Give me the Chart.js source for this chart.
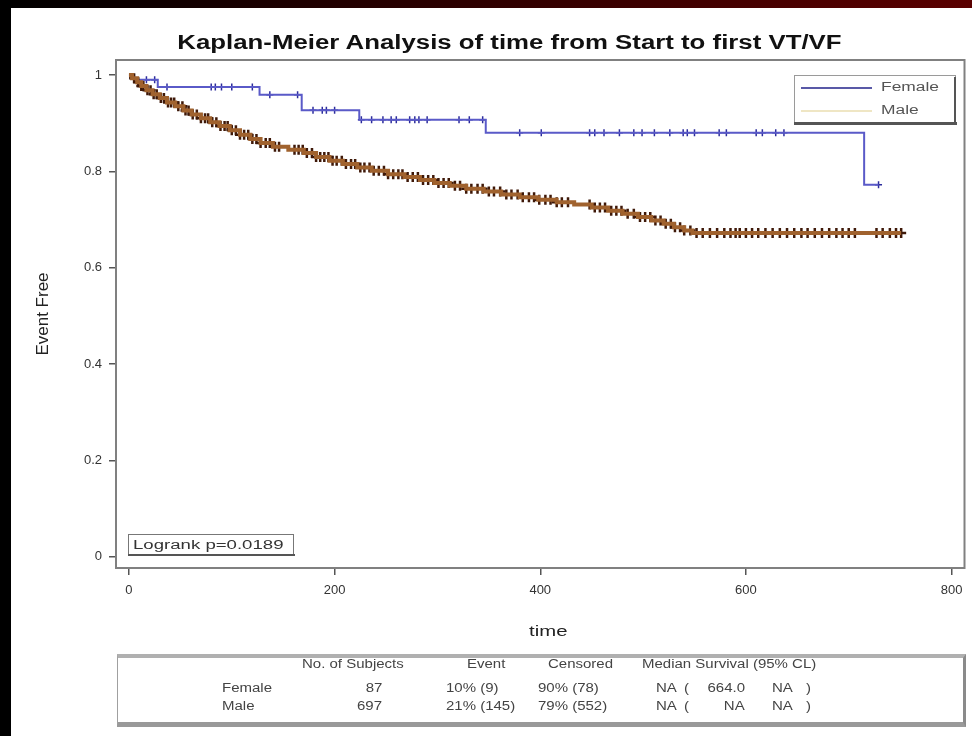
<!DOCTYPE html>
<html>
<head>
<meta charset="utf-8">
<title>Kaplan-Meier: time to first VT/VF</title>
<script src="https://cdn.jsdelivr.net/npm/chart.js@4.4.1/dist/chart.umd.min.js"></script>
<style>
  html, body { margin: 0; padding: 0; background: #fff; }
  #page { position: relative; width: 972px; height: 736px; overflow: hidden; background: #fff;
          font-family: "Liberation Sans", Arial, sans-serif; }
  #topbar { position: absolute; left: 0; top: 0; width: 972px; height: 8px;
            background: linear-gradient(to right, #000 0%, #220000 35%, #5a0000 100%); }
  #leftbar { position: absolute; left: 0; top: 0; width: 11px; height: 736px; background: #000; }
  #kmChart { position: absolute; left: 0; top: 0; }
  #title { position: absolute; left: 178px; top: 30px; width: 662px; text-align: center;
           font-size: 20px; font-weight: bold; color: #111; line-height: 24px; }
  #title span { display: inline-block; transform: scaleX(1.29); transform-origin: center; }
  #summary { position: absolute; left: 117px; top: 654px; width: 845px; height: 64px;
             border: 1px solid #a0a0a0; border-top: 4px solid #b0b0b0;
             border-bottom: 5px solid #999; border-right: 3px solid #8a8a8a; }
  .cell { position: absolute; white-space: pre; font-size: 12px; color: #444; line-height: 14px;
          transform: scaleX(1.25); transform-origin: left center; }
  .cell.right { transform-origin: right center; }
</style>
</head>
<body>
<div id="page">
  <canvas id="kmChart" width="972" height="736"></canvas>
  <div id="title"><span>Kaplan-Meier Analysis of time from Start to first VT/VF</span></div>
  <div id="topbar"></div>
  <div id="leftbar"></div>
  <div id="summary"></div>
</div>
<script>
// Kaplan-Meier step estimates (time in days)
const femaleTimes = [0, 5, 28, 127, 168, 224, 347, 715, 729];
const femaleSurv  = [1, 0.990, 0.975, 0.959, 0.927, 0.907, 0.880, 0.772, 0.772];
const femaleCensored = [17, 25, 37, 80, 84, 90, 100, 120, 137, 164, 179, 188, 192, 200,
  226, 236, 247, 255, 260, 273, 278, 282, 290, 321, 331, 344, 380, 401, 448, 453, 462,
  477, 491, 499, 511, 526, 539, 543, 550, 574, 581, 610, 616, 629, 637, 729];

const maleTimes = [0, 3, 8, 12, 17, 23, 30, 37, 45, 53, 61, 70, 79, 88, 98, 108, 118, 128,
  140, 155, 170, 182, 195, 208, 222, 236, 252, 268, 283, 297, 312, 328, 345, 362, 380, 398,
  416, 433, 450, 466, 480, 495, 508, 520, 530, 540, 548, 751];
const maleSurv = [1, 0.993, 0.985, 0.977, 0.968, 0.960, 0.952, 0.943, 0.935, 0.926, 0.918,
  0.910, 0.902, 0.894, 0.885, 0.876, 0.867, 0.859, 0.851, 0.845, 0.838, 0.830, 0.822, 0.815,
  0.808, 0.801, 0.794, 0.788, 0.782, 0.776, 0.770, 0.764, 0.758, 0.752, 0.746, 0.741, 0.736,
  0.731, 0.725, 0.718, 0.712, 0.705, 0.698, 0.691, 0.684, 0.677, 0.672, 0.672];
const maleCensored = [5, 9, 12, 14, 18, 21, 24, 27, 31, 34, 38, 41, 44, 48, 52, 55, 58, 62,
  66, 70, 74, 77, 81, 85, 89, 93, 96, 100, 104, 108, 112, 116, 120, 124, 128, 133, 137, 142,
  146, 161, 165, 169, 173, 178, 182, 186, 190, 194, 198, 202, 207, 211, 216, 220, 225, 229,
  234, 238, 243, 248, 252, 257, 262, 266, 271, 276, 281, 286, 291, 296, 301, 306, 311, 317,
  322, 328, 333, 339, 344, 350, 355, 361, 367, 372, 378, 383, 389, 394, 399, 405, 410, 416,
  421, 427, 448, 453, 458, 463, 469, 474, 479, 485, 491, 497, 502, 507, 512, 517, 522, 527,
  531, 536, 540, 546, 552, 558, 565, 572, 579, 585, 590, 594, 600, 606, 612, 619, 626, 633,
  640, 647, 654, 660, 667, 674, 681, 688, 694, 700, 706, 727, 733, 740, 746, 751];

const xTicks = [0, 200, 400, 600, 800];
const yTicks = [0, 0.2, 0.4, 0.6, 0.8, 1];
const yTickLabels = ['0', '0.2', '0.4', '0.6', '0.8', '1'];

// summary table
const groups = ['Female', 'Male'];
const nSubjects = [87, 697];
const nEvents = [9, 145];
const nCensored = [78, 552];
const medianSurv = ['NA', 'NA'];
const medianLower = ['664.0', 'NA'];
const medianUpper = ['NA', 'NA'];
const logrankP = '0.0189';

const FONT = '"Liberation Sans", Arial, sans-serif';

function kmAt(times, surv, t) {
  let s = surv[0];
  for (let i = 0; i < times.length; i++) {
    if (times[i] <= t) s = surv[i];
  }
  return s;
}

const toPoints = (times, surv) => times.map((t, i) => ({ x: t, y: surv[i] }));
const censorPoints = (cens, times, surv) => cens.map(t => ({ x: t, y: kmAt(times, surv, t) }));

// wide text, stretched horizontally around (x, y)
function wideText(ctx, text, x, y, sx) {
  ctx.save();
  ctx.translate(x, y);
  ctx.scale(sx, 1);
  ctx.fillText(text, 0, 0);
  ctx.restore();
}

// frame, legend, logrank box and x axis title
const decorations = {
  id: 'decorations',
  afterDraw(chart) {
    const { ctx, chartArea: a } = chart;
    ctx.save();
    ctx.strokeStyle = '#808080';
    ctx.lineWidth = 2;
    ctx.strokeRect(a.left, a.top, a.right - a.left, a.bottom - a.top);

    // legend
    const lx = 794, ly = 75, lw = 161, lh = 48;
    ctx.fillStyle = '#fff';
    ctx.fillRect(lx, ly, lw, lh);
    ctx.strokeStyle = '#9a9a9a';
    ctx.lineWidth = 1;
    ctx.strokeRect(lx + 0.5, ly + 0.5, lw, lh);
    ctx.fillStyle = '#555';
    ctx.fillRect(lx, ly + lh - 1, lw + 2, 3);
    ctx.fillRect(lx + lw - 1, ly + 2, 2, lh);

    ctx.lineWidth = 1.5;
    ctx.strokeStyle = '#22228a';
    ctx.beginPath(); ctx.moveTo(801, 88); ctx.lineTo(872, 88); ctx.stroke();
    ctx.lineWidth = 2;
    ctx.strokeStyle = '#efe6c4';
    ctx.beginPath(); ctx.moveTo(801, 111); ctx.lineTo(872, 111); ctx.stroke();

    ctx.font = '12px ' + FONT;
    ctx.fillStyle = '#555';
    ctx.textBaseline = 'middle';
    ctx.textAlign = 'left';
    wideText(ctx, groups[0], 881, 88, 1.45);
    wideText(ctx, groups[1], 881, 111, 1.45);

    // logrank test
    const bx = 128, by = 534, bw = 165, bh = 21;
    ctx.fillStyle = '#fff';
    ctx.fillRect(bx, by, bw, bh);
    ctx.strokeStyle = '#777';
    ctx.lineWidth = 1;
    ctx.strokeRect(bx + 0.5, by + 0.5, bw, bh);
    ctx.fillStyle = '#555';
    ctx.fillRect(bx, by + bh - 1, bw + 2, 2);
    ctx.fillStyle = '#333';
    ctx.font = '12px ' + FONT;
    wideText(ctx, 'Logrank p=' + logrankP, bx + 5, by + bh / 2 + 1, 1.55);

    // x axis title
    ctx.fillStyle = '#222';
    ctx.font = '14px ' + FONT;
    ctx.textAlign = 'center';
    wideText(ctx, 'time', (a.left + a.right) / 2 + 8, 632, 1.45);
    ctx.restore();
  }
};

const ctx = document.getElementById('kmChart').getContext('2d');
new Chart(ctx, {
  type: 'scatter',
  data: {
    datasets: [
      {
        label: 'Male',
        data: toPoints(maleTimes, maleSurv),
        showLine: true,
        stepped: 'before',
        borderColor: '#a0622e',
        borderWidth: 4,
        pointRadius: 0
      },
      {
        label: 'Male censored',
        data: censorPoints(maleCensored, maleTimes, maleSurv),
        pointStyle: 'cross',
        pointRadius: 5,
        borderColor: '#3e1808',
        borderWidth: 2.5,
        backgroundColor: '#3e1808'
      },
      {
        label: 'Female',
        data: toPoints(femaleTimes, femaleSurv),
        showLine: true,
        stepped: 'before',
        borderColor: '#5a5ac8',
        borderWidth: 2,
        pointRadius: 0
      },
      {
        label: 'Female censored',
        data: censorPoints(femaleCensored, femaleTimes, femaleSurv),
        pointStyle: 'cross',
        pointRadius: 3.5,
        borderColor: '#2c2c9c',
        borderWidth: 1.5,
        backgroundColor: '#2c2c9c'
      }
    ]
  },
  options: {
    responsive: false,
    animation: false,
    layout: { padding: { left: 12, right: 6, top: 60, bottom: 86 } },
    plugins: {
      legend: { display: false },
      tooltip: { enabled: false },
      title: { display: false }
    },
    scales: {
      x: {
        type: 'linear',
        min: -12.6,
        max: 812.6,
        afterFit: s => { s.height = 82; },
        afterBuildTicks: s => { s.ticks = xTicks.map(v => ({ value: v })); },
        grid: { drawOnChartArea: false, drawTicks: true, tickLength: 7, tickColor: '#555', lineWidth: 1.5 },
        border: { display: false },
        ticks: { color: '#333', font: { family: FONT, size: 13 }, padding: 8, maxRotation: 0 },
        title: { display: false }
      },
      y: {
        min: -0.023,
        max: 1.031,
        afterFit: s => { s.width = 104; },
        afterBuildTicks: s => { s.ticks = yTicks.map(v => ({ value: v })); },
        grid: { drawOnChartArea: false, drawTicks: true, tickLength: 7, tickColor: '#555', lineWidth: 1.5 },
        border: { display: false },
        ticks: {
          color: '#333',
          font: { family: FONT, size: 13 },
          padding: 7,
          callback: v => yTickLabels[yTicks.indexOf(v)]
        },
        title: { display: true, text: 'Event Free', color: '#222', font: { family: FONT, size: 17 }, padding: { top: 21, bottom: 21 } }
      }
    }
  },
  plugins: [decorations]
});

// summary table below the plot
const page = document.getElementById('page');
function cell(text, left, top, align) {
  const el = document.createElement('div');
  el.className = align === 'right' ? 'cell right' : 'cell';
  el.textContent = text;
  el.style.top = top + 'px';
  if (align === 'right') el.style.right = (972 - left) + 'px';
  else el.style.left = left + 'px';
  page.appendChild(el);
}
const pct = (k, n) => Math.round(100 * k / n) + '%';
const headTop = 657, rowTops = [681, 699];
cell('No. of Subjects', 302, headTop);
cell('Event', 467, headTop);
cell('Censored', 548, headTop);
cell('Median Survival (95% CL)', 642, headTop);
groups.forEach((g, i) => {
  cell(g, 222, rowTops[i]);
  cell(String(nSubjects[i]), 382, rowTops[i], 'right');
  cell(pct(nEvents[i], nSubjects[i]) + ' (' + nEvents[i] + ')', 446, rowTops[i]);
  cell(pct(nCensored[i], nSubjects[i]) + ' (' + nCensored[i] + ')', 538, rowTops[i]);
  cell(medianSurv[i], 656, rowTops[i]);
  cell('(', 684, rowTops[i]);
  cell(medianLower[i], 745, rowTops[i], 'right');
  cell(medianUpper[i], 772, rowTops[i]);
  cell(')', 806, rowTops[i]);
});
</script>
</body>
</html>
